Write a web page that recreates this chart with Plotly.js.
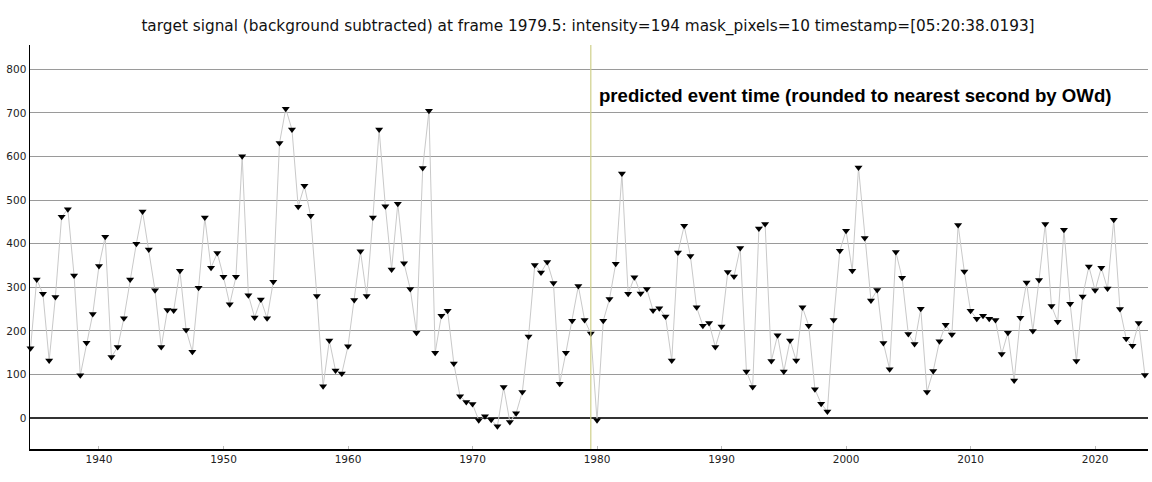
<!DOCTYPE html>
<html>
<head>
<meta charset="utf-8">
<script src="https://cdn.plot.ly/plotly-3.0.1.min.js"></script>
<style>
  html, body { margin: 0; padding: 0; background: #fff; }
  #chart { width: 1152px; height: 482px; }
</style>
</head>
<body>
<div id="chart"></div>
<script>
// frames run from 1934.5 to 2024 in half-frame steps
const FRAME_START = 1934.5;
const FRAME_STEP = 0.5;

const intensity = [
  160, 318, 285, 132, 278, 462, 479, 327, 98, 173, 239,
  349, 416, 140, 163, 229, 318, 400, 474, 387, 293, 163, 248, 247, 338, 202, 152, 299, 460, 345, 379,
  324, 261, 324, 601, 282, 231, 272, 229, 313, 631, 710, 662, 485, 533, 464, 280, 73, 178, 109, 102,
  165, 271, 383, 280, 460, 662, 486, 341, 492, 355, 296, 196, 574, 705, 150, 235, 246, 125, 50, 37,
  32, -5, 4, -4, -19, 71, -9, 11, 60, 187, 351, 334, 358, 310, 79, 150, 223, 303, 225, 194,
  -5, 223, 273, 354, 561, 285, 323, 286, 296, 247, 252, 233, 132, 380, 441, 372, 254, 212, 218, 163,
  210, 335, 325, 390, 107, 71, 435, 445, 131, 190, 107, 178, 132, 254, 212, 66, 33, 15, 225, 384,
  430, 338, 575, 413, 270, 294, 172, 112, 381, 322, 193, 170, 251, 60, 108, 176, 214, 192, 443, 336,
  246, 228, 235, 228, 225, 147, 196, 86, 230, 311, 200, 317, 445, 257, 221, 432, 262, 131, 279, 348,
  293, 345, 297, 455, 250, 182, 166, 218, 99
];

const frames = intensity.map((_, i) => FRAME_START + i * FRAME_STEP);

const yTicks = [0, 100, 200, 300, 400, 500, 600, 700, 800];
const xTicks = [1940, 1950, 1960, 1970, 1980, 1990, 2000, 2010, 2020];

const currentFrame = 1979.5;
const titleText = 'target signal (background subtracted) at frame 1979.5: intensity=194 mask_pixels=10 timestamp=[05:20:38.0193]';
const noteText = 'predicted event time (rounded to nearest second by OWd)';

const trace = {
  x: frames, y: intensity,
  type: 'scatter', mode: 'lines+markers',
  line: { color: '#c9c9c9', width: 1 },
  marker: { symbol: 'triangle-down', size: 7, color: '#000' },
  cliponaxis: false,
  hoverinfo: 'x+y',
};

const layout = {
  width: 1152, height: 482,
  paper_bgcolor: '#fff', plot_bgcolor: '#fff',
  margin: { l: 30, r: 4, t: 45, b: 33 },
  showlegend: false,
  title: {
    text: titleText,
    font: { family: 'DejaVu Sans, Verdana, sans-serif', size: 15.3, color: '#111' },
    x: 0.5104, xanchor: 'center', y: 0.946, yanchor: 'middle',
  },
  xaxis: {
    range: [1934.46, 2024.25],
    tickvals: xTicks, ticktext: xTicks.map(String),
    ticks: 'inside', ticklen: 3, tickcolor: '#bbb',
    showgrid: false, zeroline: false,
    showline: true, linecolor: '#000', linewidth: 1.5,
    tickfont: { family: 'DejaVu Sans, Verdana, sans-serif', size: 10.5, color: '#222' },
  },
  yaxis: {
    range: [-71, 856],
    tickvals: yTicks, ticktext: yTicks.map(String),
    ticks: '', showgrid: true, gridcolor: '#9a9a9a', gridwidth: 1,
    zeroline: true, zerolinecolor: '#333', zerolinewidth: 1.5,
    showline: true, linecolor: '#000', linewidth: 1.5,
    tickfont: { family: 'DejaVu Sans, Verdana, sans-serif', size: 10.5, color: '#222' },
  },
  shapes: [{
    type: 'line', xref: 'x', yref: 'paper',
    x0: currentFrame, x1: currentFrame, y0: 0, y1: 1,
    line: { color: '#cfd08a', width: 1.2 },
  }],
  annotations: [{
    text: '<b>' + noteText + '</b>',
    xref: 'x', yref: 'y', x: 1980.0, y: 741,
    xanchor: 'left', yanchor: 'middle', showarrow: false,
    font: { family: 'Liberation Sans, Arial, sans-serif', size: 18.6, color: '#000' },
  }],
};

Plotly.newPlot('chart', [trace], layout, { displayModeBar: false, staticPlot: true });
</script>
</body>
</html>
